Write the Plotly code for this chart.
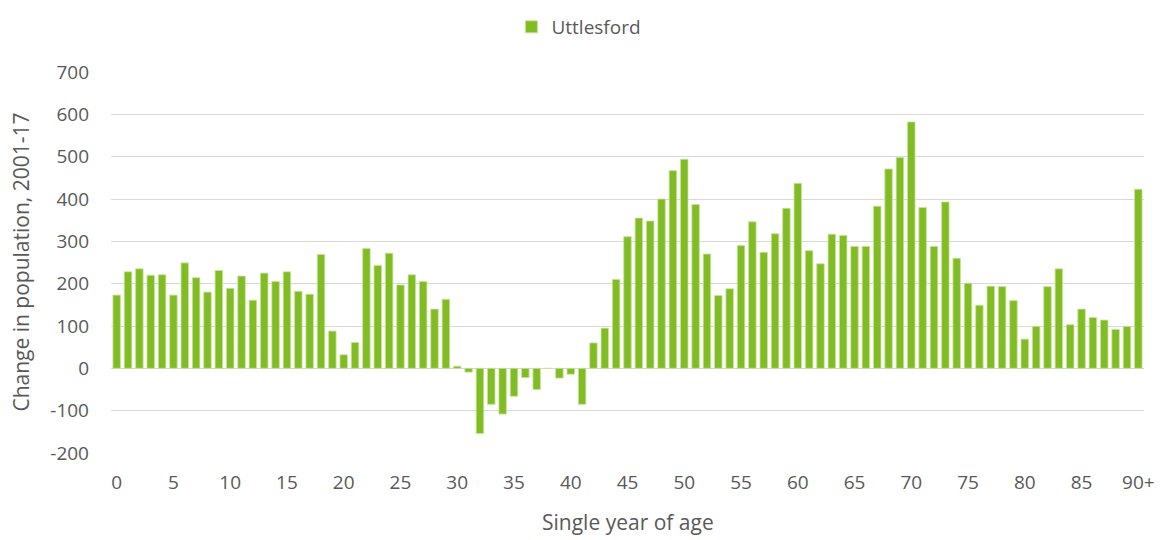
import plotly.graph_objects as go

ages = list(range(91))
age_labels = [str(a) for a in range(90)] + ["90+"]
values = [
    173, 228, 235, 220, 221, 173, 249, 214, 180, 231,
    189, 218, 161, 225, 205, 228, 182, 175, 269, 88,
    32, 61, 283, 243, 272, 197, 221, 205, 140, 163,
    5, -9, -154, -85, -108, -66, -22, -50, 0, -23,
    -14, -85, 60, 95, 210, 311, 355, 348, 400, 467,
    494, 387, 270, 172, 188, 290, 346, 274, 318, 378,
    437, 278, 247, 317, 314, 288, 288, 383, 471, 498,
    582, 380, 288, 393, 260, 201, 149, 194, 193, 160,
    69, 99, 193, 235, 103, 140, 120, 114, 92, 99,
    423,
]
tick_positions = list(range(0, 91, 5))
tick_text = [age_labels[i] for i in tick_positions]
y_ticks = list(range(-200, 701, 100))
y_tick_text = [str(v) for v in y_ticks]

font_family = "Open Sans, Noto Sans, sans-serif"
grey = "#595959"

fig = go.Figure()
fig.add_trace(go.Bar(
    x=ages, y=values, name="Uttlesford",
    marker=dict(color="#82BC24", line=dict(color="#C6E39A", width=0.8)),
    showlegend=True,
))

fig.update_layout(
    width=1162, height=540,
    margin=dict(l=103, r=26, t=64, b=95, autoexpand=False),
    plot_bgcolor="white", paper_bgcolor="white",
    bargap=0.34,
    font=dict(family=font_family, size=19, color=grey),
    showlegend=True,
    legend=dict(orientation="h", x=0.453, xanchor="center", y=1.0, yanchor="top",
                yref="container", font=dict(size=19, color=grey),
                itemwidth=30, tracegroupgap=0, bgcolor="rgba(0,0,0,0)"),
    xaxis=dict(
        range=[-0.5, 90.5], tickmode="array", tickvals=tick_positions, ticktext=tick_text,
        showgrid=False, zeroline=False, showline=False, ticks="",
        ticklabelstandoff=16, automargin=False,
        tickfont=dict(size=19, color=grey),
    ),
    yaxis=dict(
        range=[-200, 700], tickmode="array", tickvals=y_ticks, ticktext=y_tick_text,
        showgrid=True, gridcolor="#D9D9D9", gridwidth=1.3,
        zeroline=True, zerolinecolor="#D9D9D9", zerolinewidth=1.3,
        showline=False, ticks="", ticklabelstandoff=21, automargin=False,
        tickfont=dict(size=19, color=grey),
    ),
    annotations=[
        dict(text="Single year of age", xref="paper", yref="paper", x=0.5, y=-0.181,
             xanchor="center", yanchor="middle", showarrow=False,
             font=dict(size=21, color=grey)),
        dict(text="Change in population, 2001-17", xref="paper", yref="paper",
             x=-0.088, y=0.5, xanchor="center", yanchor="middle", textangle=-90,
             showarrow=False, font=dict(size=21, color=grey)),
    ],
)

fig.write_html("out.html")
